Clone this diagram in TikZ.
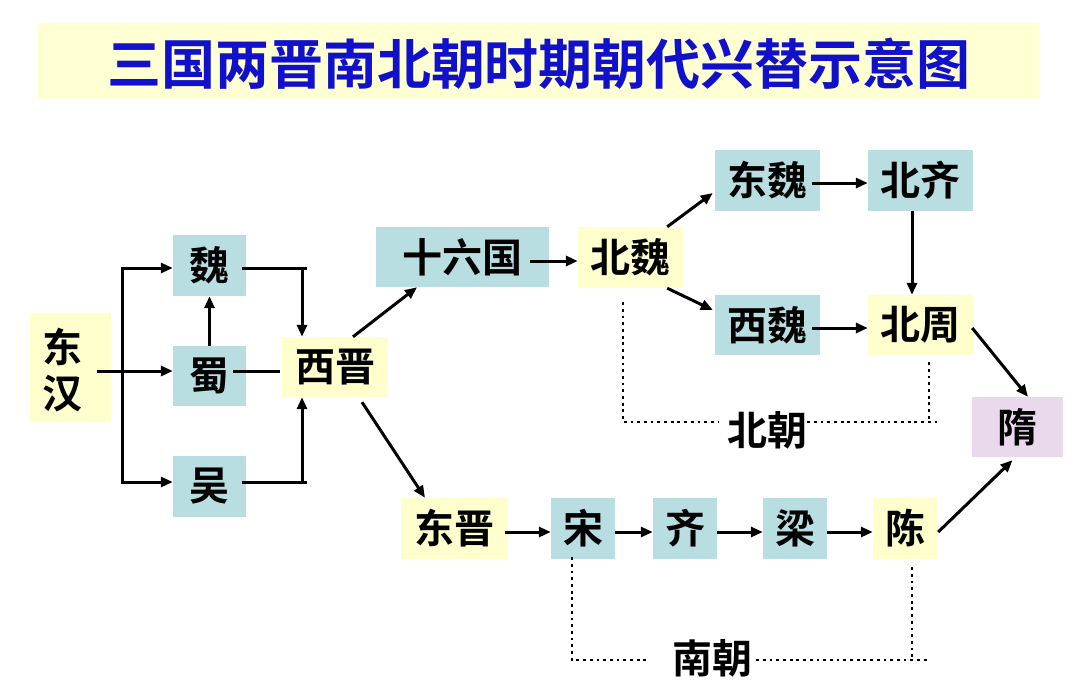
\documentclass[tikz,border=0pt]{standalone}
\usepackage{fontspec}
\setmainfont{Noto Sans CJK SC}[BoldFont={Noto Sans CJK SC Bold}]
\usetikzlibrary{arrows.meta,calc}
\definecolor{tealbox}{RGB}{184,222,225}
\definecolor{yelbox}{RGB}{255,255,206}
\definecolor{purbox}{RGB}{234,216,237}
\definecolor{titlebg}{RGB}{255,255,212}
\definecolor{titleblue}{RGB}{17,17,204}
\begin{document}
\begin{tikzpicture}[x=1pt,y=-1pt,
  box/.style={inner sep=0pt, font=\fontsize{40}{46}\selectfont\bfseries, text=black},
  tb/.style={box, fill=tealbox},
  yb/.style={box, fill=yelbox},
  pb/.style={box, fill=purbox},
  arr/.style={line width=3pt, line join=miter, -{Triangle[length=12pt,width=10pt]}},
  ln/.style={line width=3pt},
  dotl/.style={line width=2.8pt, dash pattern=on 2.8pt off 3.9pt},
  lbl/.style={inner sep=0pt, font=\fontsize{40}{46}\selectfont\bfseries, text=black}]
\useasboundingbox (0,0) rectangle (1080,691);
\fill[white] (0,0) rectangle (1080,691);
% title
\node[fill=titlebg, inner sep=0pt, minimum width=1002pt, minimum height=76pt] (band) at (539,61) {};
\node[inner sep=0pt, font=\fontsize{54}{60}\selectfont\bfseries, text=titleblue] (title) at (539,64) {三国两晋南北朝时期朝代兴替示意图};
% nodes
\node[yb, minimum width=81pt, minimum height=109pt] (dh) at (70.5,367.5) {};
\node[lbl, align=center] (dht) at (62,370) {东\\汉};
\node[tb, minimum width=73pt, minimum height=61pt] (wei) at (209.5,265.5) {魏};
\node[tb, minimum width=73pt, minimum height=60pt] (shu) at (209.5,376) {蜀};
\node[tb, minimum width=73pt, minimum height=61pt] (wu) at (209.5,486.5) {吴};
\node[yb, minimum width=106pt, minimum height=60pt] (xj) at (335,367) {西晋};
\node[tb, minimum width=173pt, minimum height=60pt] (sl) at (462.5,257) {十六国};
\node[yb, minimum width=105pt, minimum height=61pt] (bw) at (630.5,257.5) {北魏};
\node[tb, minimum width=105pt, minimum height=61pt] (dw) at (767.5,180.5) {东魏};
\node[tb, minimum width=105pt, minimum height=61pt] (bq) at (920.5,180.5) {北齐};
\node[tb, minimum width=105pt, minimum height=60pt] (xw) at (767.5,325) {西魏};
\node[yb, minimum width=105pt, minimum height=60pt] (bz) at (920.5,325) {北周};
\node[pb, minimum width=91pt, minimum height=60pt] (sui) at (1017.5,427) {隋};
\node[yb, minimum width=107pt, minimum height=61pt] (dj) at (454.5,528.5) {东晋};
\node[tb, minimum width=64pt, minimum height=61pt] (song) at (583,528.5) {宋};
\node[tb, minimum width=64pt, minimum height=61pt] (qi) at (685,528.5) {齐};
\node[tb, minimum width=64pt, minimum height=61pt] (liang) at (795,528.5) {梁};
\node[yb, minimum width=64pt, minimum height=61pt] (chen) at (905,528.5) {陈};
\node[lbl] (bc) at (767,430) {北朝};
\node[lbl] (nc) at (712,658) {南朝};
% helper coordinates
\coordinate (t1) at (122,268);
\coordinate (t2) at (122,482);
\coordinate (j1) at (302,268);
\coordinate (j2) at (302,482);
% left part
\draw[arr] ([shift={(-14,3.5)}]dh.east) -- ([shift={(0,-5)}]shu.west);
\draw[arr] (t2) -- (t1) -- (wei.west |- t1);
\draw[arr] (t1) -- (t2) -- (wu.west |- t2);
\draw[arr] (shu.north) -- (wei.south);
\draw[ln] ([xshift=-4pt]wei.east |- j1) -- ([xshift=5pt]j1);
\draw[arr] (j1) -- (j1 |- xj.north);
\draw[ln] ([xshift=-4pt]wu.east |- j2) -- ([xshift=5pt]j2);
\draw[arr] (j2) -- (j2 |- xj.south);
\draw[ln] ([shift={(-13,-5)}]shu.east) -- ([shift={(-2,4)}]xj.west);
% upper branch
\draw[arr] ([shift={(18,0)}]xj.north) -- ([shift={(-45.5,0)}]sl.south);
\draw[arr] ([shift={(-19,4)}]sl.east) -- ([shift={(0,3.5)}]bw.west);
\draw[arr] ([shift={(-16,0)}]bw.north east) -- ([shift={(-2,12.5)}]dw.west);
\draw[arr] ([shift={(-16,0)}]bw.south east) -- ([shift={(-2,-15)}]xw.west);
\draw[arr] ([shift={(-8,2.5)}]dw.east) -- ([shift={(0,2.5)}]bq.west);
\draw[arr] ([shift={(-8.5,0)}]bq.south) -- ([shift={(-8.5,0)}]bz.north);
\draw[arr] ([shift={(-8,3)}]xw.east) -- ([shift={(0,3)}]bz.west);
\draw[arr] ([shift={(-1,3)}]bz.east) -- ([shift={(10.5,0)}]sui.north);
% lower branch
\draw[arr] ([shift={(27,5)}]xj.south) -- ([shift={(-29.5,0)}]dj.north);
\draw[arr] ([shift={(-3,3.5)}]dj.east) -- ([shift={(0,3.5)}]song.west);
\draw[arr] ([shift={(0,3.5)}]song.east) -- ([shift={(0,3.5)}]qi.west);
\draw[arr] ([shift={(0,3.5)}]qi.east) -- ([shift={(0,3.5)}]liang.west);
\draw[arr] ([shift={(0,3.5)}]liang.east) -- ([shift={(0,3.5)}]chen.west);
\draw[arr] ([shift={(1,3.5)}]chen.east) -- ([shift={(-5,3)}]sui.south);
% dotted brackets: north
\coordinate (nl) at (623,422);
\coordinate (nv) at (929,422);
\coordinate (nr) at (938,422);
\draw[dotl] ([shift={(-7.5,14)}]bw.south) -- (nl) -- ([xshift=-8pt]nl -| bc.west);
\draw[dotl] (nl -| bc.east) -- (nr);
\draw[dotl] ([shift={(8.5,7)}]bz.south) -- (nv);
% dotted brackets: south
\coordinate (sl1) at (572,660);
\coordinate (sv) at (912,660);
\coordinate (sr) at (930,660);
\draw[dotl] ([shift={(-11,-2)}]song.south) -- (sl1) -- ([xshift=-22pt]sl1 -| nc.west);
\draw[dotl] ([xshift=4pt]sl1 -| nc.east) -- (sr);
\draw[dotl] ([shift={(7,8)}]chen.south) -- (sv);
\end{tikzpicture}
\end{document}
